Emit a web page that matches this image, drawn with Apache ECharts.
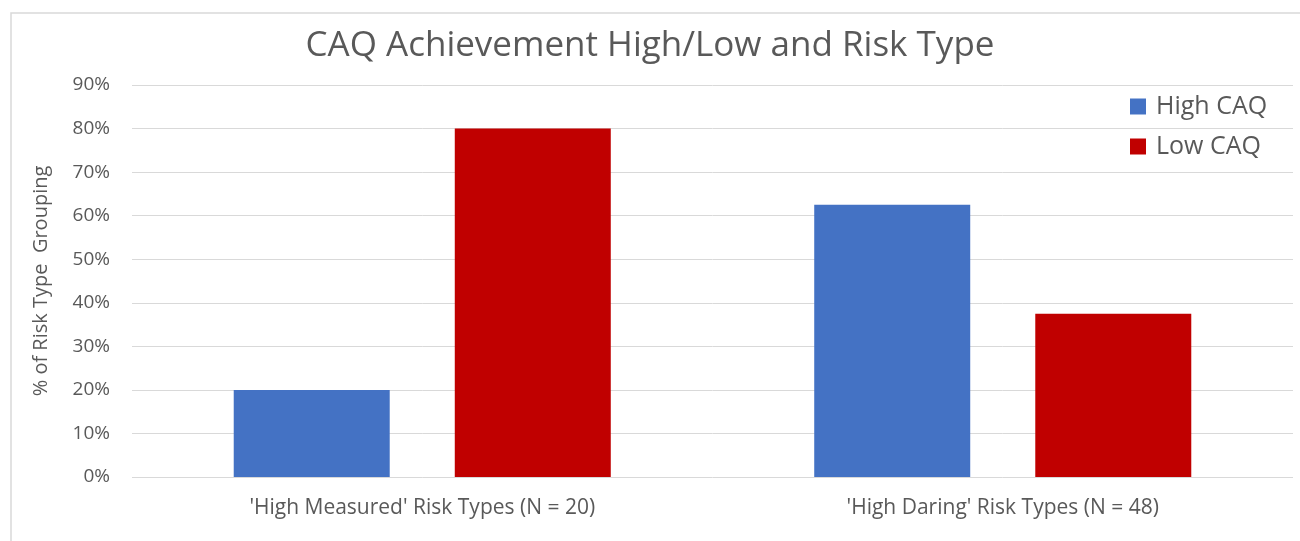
<!DOCTYPE html>
<html>
<head>
<meta charset="utf-8">
<script src="https://cdn.jsdelivr.net/npm/echarts@6/dist/echarts.min.js"></script>
<style>html,body{margin:0;padding:0;background:#fff}#c{width:1300px;height:541px}</style>
</head>
<body>
<div id="c"></div>
<script>
const categories = ["'High Measured' Risk Types (N = 20)", "'High Daring' Risk Types (N = 48)"];
const highCAQ = [20, 62.5];
const lowCAQ = [80, 37.5];
const seriesNames = ['High CAQ', 'Low CAQ'];
const yTicks = { min: 0, max: 90, interval: 10 };

const chart = echarts.init(document.getElementById('c'));
const textColor = '#595959';
const font = '"Open Sans", sans-serif';
chart.setOption({
  animation: false,
  textStyle: { fontFamily: font },
  graphic: [{
    type: 'rect', shape: { x: 11, y: 13, width: 1300, height: 540 },
    style: { fill: 'none', stroke: '#d9d9d9', lineWidth: 1.5 }, z: -1
  }],
  title: {
    text: 'CAQ Achievement High/Low and Risk Type',
    left: 'center', top: 24,
    textStyle: { fontSize: 35, fontWeight: 'normal', color: textColor, fontFamily: font }
  },
  legend: {
    data: seriesNames, orient: 'vertical', left: 1130, top: 94, padding: 0,
    itemWidth: 16, itemHeight: 16, itemGap: 15,
    icon: 'rect',
    textStyle: { fontSize: 25, color: textColor, fontFamily: font, padding: [0, 0, 0, 5] }
  },
  grid: { left: 132, right: 7, top: 85, bottom: 64 },
  xAxis: {
    type: 'category', data: categories,
    axisLine: { show: false }, axisTick: { show: false },
    axisLabel: { fontSize: 21, color: textColor, margin: 21, fontFamily: font }
  },
  yAxis: {
    type: 'value', min: yTicks.min, max: yTicks.max, interval: yTicks.interval,
    name: '% of Risk Type  Grouping', nameLocation: 'middle', nameGap: 81, nameRotate: 90,
    nameTextStyle: { fontSize: 20, color: textColor, fontFamily: font },
    axisLabel: { formatter: '{value}%', fontSize: 19, color: textColor, margin: 22, fontFamily: font },
    splitLine: { lineStyle: { color: '#d9d9d9', width: 1 } },
    axisLine: { show: false }, axisTick: { show: false }
  },
  series: [
    { name: seriesNames[0], type: 'bar', data: highCAQ, barWidth: 156, barGap: '41.7%', itemStyle: { color: '#4472C4' } },
    { name: seriesNames[1], type: 'bar', data: lowCAQ, barWidth: 156, barGap: '41.7%', itemStyle: { color: '#C00000' } }
  ]
});
</script>
</body>
</html>
